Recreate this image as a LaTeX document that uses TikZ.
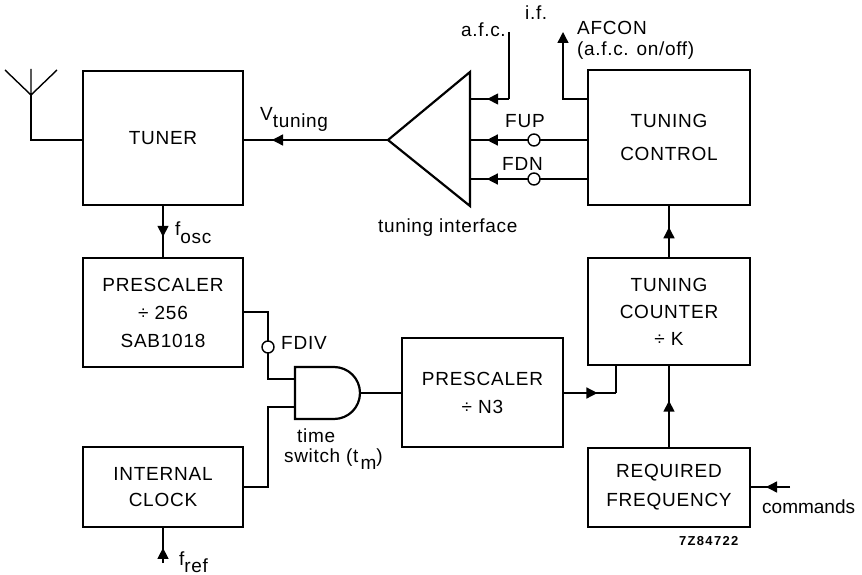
\documentclass[tikz,border=0pt]{standalone}
\usepackage{fontspec}
\setmainfont[LetterSpace=3.5]{Liberation Sans}
\newfontfamily\capsfont[LetterSpace=4]{Liberation Sans}
\newfontfamily\tightfont{Liberation Sans}
\newfontfamily\codefont[LetterSpace=10]{Liberation Sans}
\usetikzlibrary{arrows.meta,decorations.markings}
\tikzset{x=1pt,y=-1pt,
 blockbox/.style={draw,line width=2.4pt,inner sep=0pt,outer sep=0pt,align=center,font=\capsfont\fontsize{19}{28}\selectfont,anchor=north west},
 wire/.style={line width=1.4pt},
 lbl/.style={inner sep=0pt,anchor=base west,font=\fontsize{19}{20}\selectfont},
 capslbl/.style={lbl,font=\capsfont\fontsize{19}{20}\selectfont},
 bubble/.style={circle,draw,fill=white,line width=1.4pt,minimum size=12pt,inner sep=0pt,outer sep=0pt},
 tipL/.style={decoration={markings,mark=at position #1 with {\arrow{Triangle[length=11pt,width=11pt]}}},postaction={decorate}},
}
\begin{document}
\begin{tikzpicture}
\useasboundingbox (0,0) rectangle (862,575);
\node[blockbox,minimum width=160pt,minimum height=134pt] (tuner) at (83,71) {TUNER};
\node[blockbox,minimum width=160pt,minimum height=109pt] (pre) at (83,258) {PRESCALER\\÷ 256\\SAB1018};
\node[blockbox,minimum width=160pt,minimum height=80pt,font=\capsfont\fontsize{19}{26}\selectfont] (clock) at (83,447) {INTERNAL\\CLOCK};
\node[blockbox,minimum width=161pt,minimum height=109pt] (n3) at (402,338) {PRESCALER\\÷ N3};
\node[blockbox,minimum width=162pt,minimum height=135pt,font=\capsfont\fontsize{19}{33}\selectfont] (control) at (588,70) {TUNING\\CONTROL};
\node[blockbox,minimum width=162pt,minimum height=107pt,font=\capsfont\fontsize{19}{27}\selectfont] (counter) at (588,258) {TUNING\\COUNTER\\÷ K};
\node[blockbox,minimum width=162pt,minimum height=79pt,font=\capsfont\fontsize{19}{29}\selectfont] (freq) at (588,448) {REQUIRED\\FREQUENCY};
% amplifier
\coordinate (tip) at (388,140);
\draw[line width=2.2pt,line join=miter] (470,72) -- (470,206) -- (tip) -- cycle;
% gate
\draw[line width=2.2pt] (295,367) -- (334,367) arc (-90:90:26) -- (295,419) -- cycle;
\coordinate (gin1) at (295,379);
\coordinate (gin2) at (295,407);
\coordinate (gout) at (360,393);
% antenna
\coordinate (antb) at (31,95);
\draw[wire] (tuner.west |- tip) -| (antb);
\draw[wire] (antb) -- (31,69) (antb) -- (5,70) (antb) -- (57,70);
% wires
\draw[wire,tipL=0.8] (tip) -- (tuner.east |- tip);
\draw[wire,tipL=0.6] (tuner.south) -- (pre.north);
\coordinate (afctop) at (509,32);
\coordinate (afcin) at (470,99);
\draw[wire] (afctop) -- (509,99);
\draw[wire,tipL=0.56] (509,99) -- (afcin);
\coordinate (afconout) at (563,32);
\draw[wire,-{Triangle[length=11pt,width=11pt]}] (588,99) -| (afconout);
\node[bubble] (fupc) at (534,140) {};
\node[bubble] (fdnc) at (534,179) {};
\draw[wire] (588,140) -- (fupc);
\draw[wire] (588,179) -- (fdnc);
\draw[wire,tipL=0.71] (fupc) -- (470,140);
\draw[wire,tipL=0.71] (fdnc) -- (470,179);
\draw[wire,tipL=0.58] (counter.north) -- (control.south);
\draw[wire,tipL=0.57] (freq.north) -- (counter.south);
\node[bubble] (fdivc) at (268,347) {};
\draw[wire] (243,312) -| (fdivc);
\draw[wire] (fdivc) |- (gin1);
\draw[wire] (243,487) -| (268,407) -- (gin2);
\draw[wire] (gout) -- (402,393);
\draw[wire,tipL=0.65] (563,393) -- (616,393);
\draw[wire] (616,393) -- (616,365);
\coordinate (cmd) at (790,487);
\draw[wire,tipL=0.6] (cmd) -- (freq.east |- cmd);
\coordinate (fr) at (163,563);
\draw[wire,tipL=0.42] (fr) -- (clock.south);
% labels
\node[lbl] at (260,121) {V\raisebox{-7pt}{tuning}};
\node[lbl] at (175,235) {f\raisebox{-8pt}{osc}};
\node[lbl] at (179,565) {f\raisebox{-7pt}{ref}};
\node[lbl] at (461,37) {a.f.c.};
\node[lbl] at (525,20) {i.f.};
\node[capslbl] at (577,35) {AFCON};
\node[lbl] at (577,56) {(a.f.c. on/off)};
\node[capslbl] at (505,128) {FUP};
\node[capslbl] at (502,170) {FDN};
\node[lbl] at (378,232) {tuning interface};
\node[capslbl] at (281,349) {FDIV};
\node[lbl] at (297,442) {time};
\node[lbl] at (284,462) {switch (t\hspace{2pt}\raisebox{-7pt}{m})};
\node[lbl,font=\tightfont\fontsize{19}{20}\selectfont] at (762,513) {commands};
\node[lbl,font=\codefont\bfseries\fontsize{13}{15}\selectfont] at (679,545) {7Z84722};
\end{tikzpicture}
\end{document}
